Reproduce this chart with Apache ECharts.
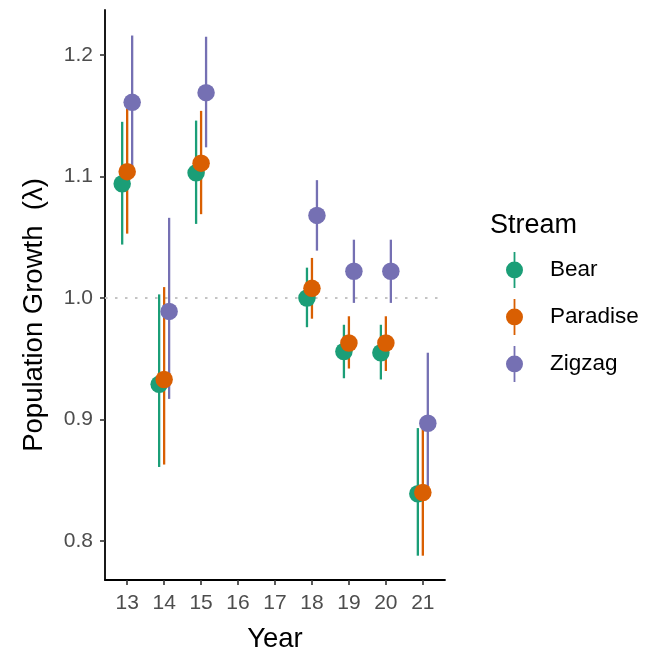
<!DOCTYPE html>
<html>
<head>
<meta charset="utf-8">
<script src="https://cdn.jsdelivr.net/npm/echarts@6/dist/echarts.min.js"></script>
<style>html,body{margin:0;padding:0;background:#fff;}#c{width:646px;height:654px;}</style>
</head>
<body>
<div id="c"></div>
<script>
const years = [13, 14, 15, 18, 19, 20, 21];
const xTicks = [13, 14, 15, 16, 17, 18, 19, 20, 21];
const yTicks = [0.8, 0.9, 1.0, 1.1, 1.2];
const streams = ['Bear', 'Paradise', 'Zigzag'];
const bearMean = [1.094, 0.929, 1.103, 1.000, 0.956, 0.955, 0.839];
const bearLow = [1.044, 0.861, 1.061, 0.976, 0.934, 0.933, 0.788];
const bearHigh = [1.145, 1.003, 1.146, 1.025, 0.978, 0.978, 0.893];
const paradiseMean = [1.104, 0.933, 1.111, 1.008, 0.963, 0.963, 0.840];
const paradiseLow = [1.053, 0.863, 1.069, 0.983, 0.942, 0.940, 0.788];
const paradiseHigh = [1.156, 1.009, 1.154, 1.033, 0.985, 0.985, 0.893];
const zigzagMean = [1.161, 0.989, 1.169, 1.068, 1.022, 1.022, 0.897];
const zigzagLow = [1.108, 0.917, 1.124, 1.039, 0.996, 0.996, 0.845];
const zigzagHigh = [1.216, 1.066, 1.215, 1.097, 1.048, 1.048, 0.955];

const colors = ['#1B9E77', '#D95F02', '#7570B3'];
const means = [bearMean, paradiseMean, zigzagMean];
const lows = [bearLow, paradiseLow, zigzagLow];
const highs = [bearHigh, paradiseHigh, zigzagHigh];
const dodge = 0.27;
// point-range glyph (circle + vertical bar) plus an invisible zero-area point that widens the box
const icon = 'path://M7.6,0 L9.4,0 L9.4,36 L7.6,36 Z M0,18 A8.5,8.5 0 1,1 17,18 A8.5,8.5 0 1,1 0,18 Z M39,18 L39,18.001 Z';
const font = '"Liberation Sans", Arial, sans-serif';

const series = [];
streams.forEach((s, i) => {
  const off = (i - 1) * dodge / 2;
  series.push({
    name: s, type: 'custom', z: 2,
    data: years.map((y, j) => [y + off, lows[i][j], highs[i][j]]),
    renderItem: function (params, api) {
      const x = api.value(0);
      const p1 = api.coord([x, api.value(1)]);
      const p2 = api.coord([x, api.value(2)]);
      return { type: 'line', shape: { x1: p1[0], y1: p1[1], x2: p2[0], y2: p2[1] },
        style: { stroke: colors[i], lineWidth: 2.3 } };
    },
    itemStyle: { color: colors[i] },
    encode: { x: 0, y: [1, 2] },
    silent: true
  });
});
streams.forEach((s, i) => {
  const off = (i - 1) * dodge / 2;
  const ser = {
    name: s, type: 'scatter', z: 5, symbolSize: 17.5,
    itemStyle: { color: colors[i], opacity: 1 },
    data: years.map((y, j) => [y + off, means[i][j]]),
    silent: true
  };
  if (i === 0) {
    ser.markLine = {
      silent: true, symbol: 'none', label: { show: false }, z: 1,
      lineStyle: { type: [2.5, 7.5], color: '#C4C4C4', width: 2 },
      data: [{ yAxis: 1.0 }]
    };
  }
  series.push(ser);
});

const chart = echarts.init(document.getElementById('c'));
chart.setOption({
  animation: false,
  backgroundColor: '#fff',
  grid: { left: 105, right: 201, top: 10, bottom: 74, containLabel: false, outerBoundsMode: 'none' },
  xAxis: {
    type: 'value', min: 12.4, max: 21.6,
    name: 'Year', nameLocation: 'middle', nameGap: 45,
    nameTextStyle: { fontSize: 27.5, color: '#000', fontFamily: font },
    splitLine: { show: false },
    axisLine: { show: true, lineStyle: { color: '#000', width: 1.8 } },
    axisTick: { show: true, customValues: xTicks, length: 5, lineStyle: { color: '#333', width: 1.6 } },
    axisLabel: { customValues: xTicks, fontSize: 21, color: '#4D4D4D', fontFamily: font, margin: 13 }
  },
  yAxis: {
    type: 'value', min: 0.768, max: 1.237,
    name: 'Population Growth  (λ)', nameLocation: 'middle', nameGap: 57,
    nameTextStyle: { fontSize: 27.5, color: '#000', fontFamily: font, padding: [0, 40, 0, 0] },
    splitLine: { show: false },
    axisLine: { show: true, lineStyle: { color: '#000', width: 1.8 } },
    axisTick: { show: true, customValues: yTicks, length: 5, lineStyle: { color: '#333', width: 1.6 } },
    axisLabel: { customValues: yTicks, fontSize: 21, color: '#4D4D4D', fontFamily: font, margin: 12,
      formatter: v => v.toFixed(1) }
  },
  legend: {
    orient: 'vertical', left: 506, top: 252, padding: 0,
    itemWidth: 39, itemHeight: 36, itemGap: 11, symbolKeepAspect: false,
    textStyle: { fontSize: 22.5, color: '#000', fontFamily: font },
    data: streams.map(s => ({ name: s, icon: icon })),
    selectedMode: false
  },
  graphic: [{
    type: 'text', left: 490, top: 212,
    style: { text: 'Stream', fontSize: 27, fill: '#000', fontFamily: font }
  }],
  series: series
});
</script>
</body>
</html>
